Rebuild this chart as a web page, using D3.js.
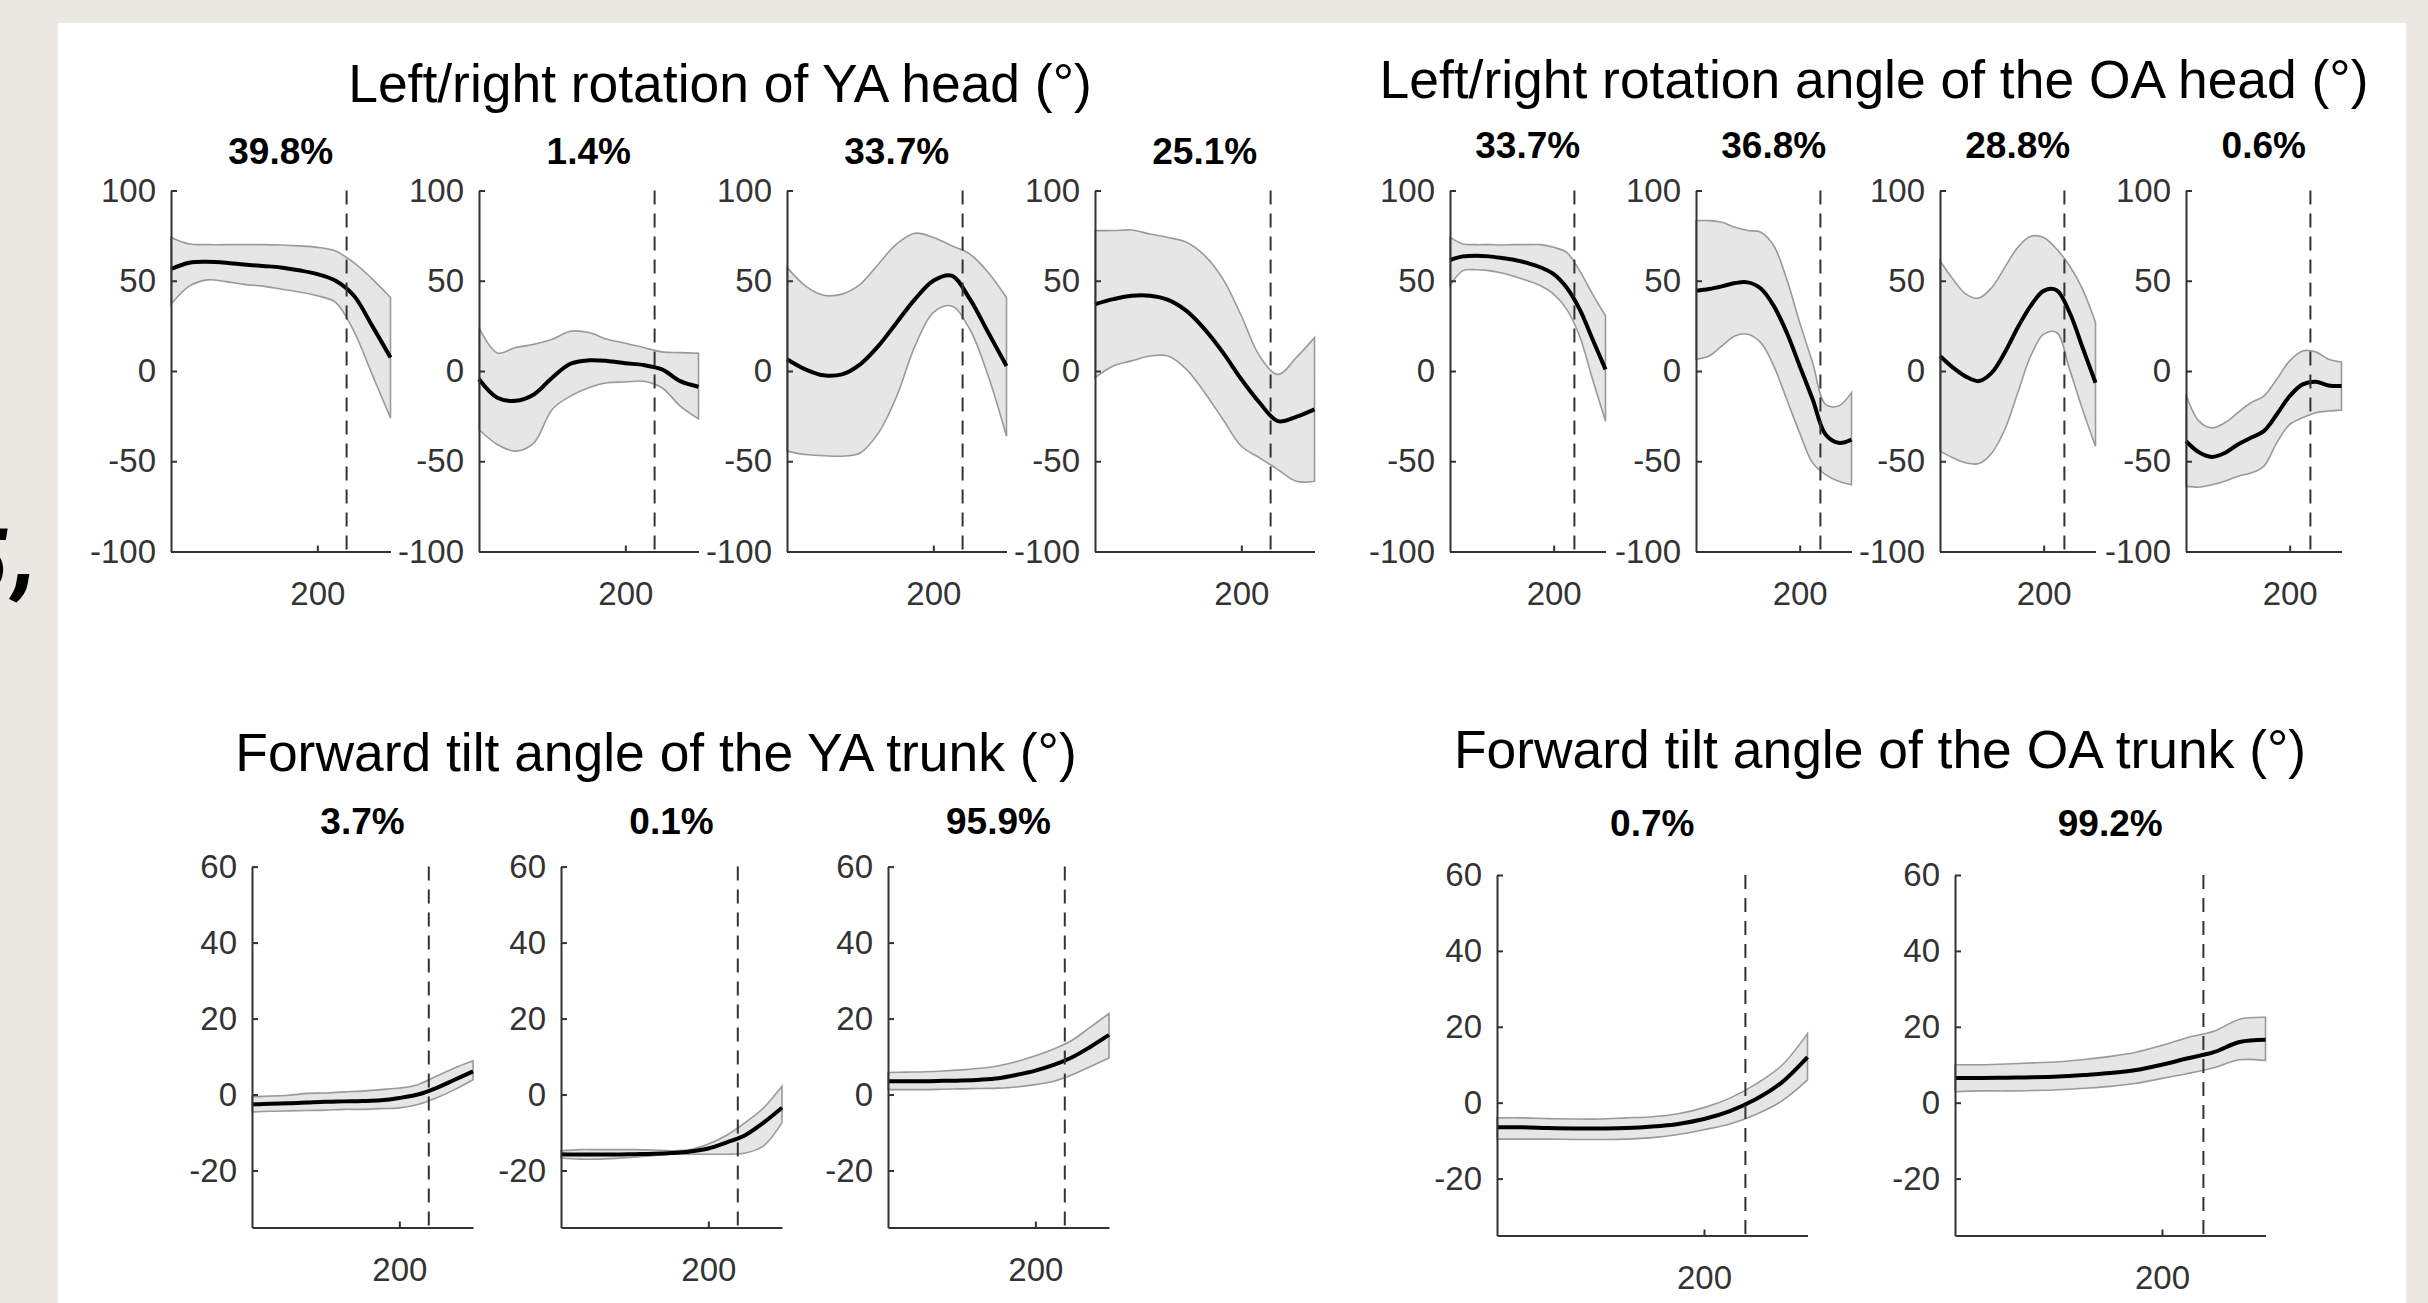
<!DOCTYPE html>
<html><head><meta charset="utf-8">
<script src="https://cdn.jsdelivr.net/npm/d3@7"></script>
<style>html,body{margin:0;padding:0;background:#ebe7e2;} svg{display:block}</style>
</head><body>
<svg id="c" width="2428" height="1303"></svg>
<script>
// ---------------- DATA ----------------
const xSamples = [0, 25, 50, 75, 100, 125, 150, 175, 200, 225, 250, 275, 300];
const eventX = 240;
const xTickValues = [200];
const headYTicks = [-100, -50, 0, 50, 100];
const trunkYTicks = [-20, 0, 20, 40, 60];
const headYDomain = [-100, 100];
const trunkYDomain = [-35, 60];
const groupTitles = [
  "Left/right rotation of YA head (°)",
  "Left/right rotation angle of the OA head (°)",
  "Forward tilt angle of the YA trunk (°)",
  "Forward tilt angle of the OA trunk (°)"
];
const yaHeadLabels = ["39.8%", "1.4%", "33.7%", "25.1%"];
const oaHeadLabels = ["33.7%", "36.8%", "28.8%", "0.6%"];
const yaTrunkLabels = ["3.7%", "0.1%", "95.9%"];
const oaTrunkLabels = ["0.7%", "99.2%"];
const edgeFragment = ["5", ","];

const yaHeadMean = [
  [56.5, 60, 60.5, 60, 59, 58.2, 57.4, 55.8, 53.7, 50, 41.7, 25, 7.5],
  [-4.6, -14.8, -16.5, -13, -3.7, 4, 5.9, 5.6, 4.3, 3.3, 0.9, -5.6, -8.7],
  [6.5, 0.9, -2.4, -1.9, 3.7, 13.9, 26.9, 39.8, 50, 52.8, 39.8, 21.3, 2.8],
  [37, 39.8, 41.7, 41.7, 39.4, 33.3, 23.1, 10.2, -4.6, -17.6, -27.8, -25.4, -21.3]
];
const yaHeadUpper = [
  [74, 70.4, 70, 70, 70, 70, 69.8, 69.3, 68.5, 66.5, 60, 51, 40.7],
  [24, 10, 13, 14.8, 17.6, 22, 21.3, 17.6, 15.4, 13, 10.6, 10.2, 9.8],
  [57.4, 47.2, 42, 42.6, 48, 59.3, 70.4, 76.3, 74, 69.4, 64.8, 54.6, 40.7],
  [77.8, 77.8, 78.1, 75.9, 74, 71.3, 63.9, 50.9, 30.6, 8.3, -1.9, 7.4, 18.5]
];
const yaHeadLower = [
  [37, 47, 50.5, 49.5, 48, 47, 45.4, 43.8, 41.7, 38, 22, -2, -26],
  [-32.4, -40.7, -44.4, -39.8, -21.3, -13.9, -9.3, -6.5, -6.1, -5.7, -9.3, -19.4, -26.5],
  [-44.4, -46.3, -46.9, -47.2, -45.4, -34.3, -13.9, 13.9, 32.4, 36, 23, -2.8, -36.1],
  [-3.7, 2.8, 5.6, 8.3, 8.3, 0.9, -12, -26.9, -41.7, -48.1, -54.6, -61.1, -61.1]
];
const oaHeadMean = [
  [61.5, 63.5, 63.9, 63.5, 62.6, 61.5, 59.8, 57.4, 53.7, 46.3, 34.3, 17.6, 0.9],
  [44.4, 45.4, 46.9, 48.7, 49.1, 45.7, 36.1, 21.3, 2.8, -15.7, -35.2, -39.8, -38],
  [8.3, 1.9, -3.1, -5.6, -0.9, 10.2, 24.1, 36.1, 44.4, 44.8, 32.4, 13, -6.5],
  [-38.9, -45, -47.6, -45.4, -40.7, -37, -33.3, -24.1, -13.9, -7.4, -5.9, -8, -8.3]
];
const oaHeadUpper = [
  [74, 70.4, 70, 70, 69.8, 70, 70, 70, 68.5, 65.7, 55.6, 42.6, 30.6],
  [83.3, 83.3, 82.4, 79.6, 77.8, 76.9, 69.4, 50.9, 26.9, 4.6, -18.5, -19.4, -12],
  [61.1, 50.9, 42.6, 40.4, 46.3, 57.4, 68.5, 74.6, 74, 67.6, 58.3, 45.4, 26.9],
  [-13, -27.8, -31.5, -28.7, -23.1, -17.6, -13.9, -4.6, 5.6, 11.1, 10.6, 6.5, 5]
];
const oaHeadLower = [
  [47.2, 55.6, 56.1, 55.6, 54.3, 52.4, 50, 47.2, 42.6, 34.3, 19.4, -4.6, -27.8],
  [6.5, 8.3, 13.9, 19.4, 20.4, 15.7, 2.8, -15.7, -34.3, -50.9, -57.4, -61.1, -63],
  [-44.4, -48.1, -50.9, -51.3, -45.4, -32.4, -12, 8.3, 20.4, 21.3, 0.9, -21.3, -41.7],
  [-63.9, -64.3, -63, -61.1, -58.3, -56.5, -52.8, -39.8, -29.6, -25.9, -23.1, -22.2, -21.7]
];
const yaTrunkMean = [
  [-2.6, -2.4, -2.3, -2.1, -1.9, -1.8, -1.7, -1.5, -0.9, 0, 1.7, 3.9, 6.1],
  [-15.7, -15.8, -15.8, -15.8, -15.7, -15.6, -15.4, -15, -14.2, -12.6, -10.7, -7.4, -3.5],
  [3.5, 3.5, 3.5, 3.6, 3.7, 3.9, 4.3, 5.2, 6.3, 7.8, 9.8, 12.6, 15.7]
];
const yaTrunkUpper = [
  [-0.6, -0.4, -0.2, 0.3, 0.4, 0.7, 0.9, 1.3, 1.7, 2.6, 4.8, 7, 8.9],
  [-14.8, -14.5, -14.5, -14.5, -14.5, -14.6, -14.8, -14.5, -13, -10.7, -7.4, -3.5, 2.2],
  [5.8, 5.9, 6, 6.2, 6.5, 6.9, 7.6, 8.7, 10.2, 12, 14.3, 17.8, 21.3]
];
const yaTrunkLower = [
  [-4.6, -4.4, -4.3, -4.2, -4.1, -3.9, -3.9, -3.7, -3.5, -2.6, -0.9, 1.3, 3.9],
  [-16.7, -17, -17, -16.8, -16.5, -16.1, -15.7, -15.7, -15.7, -15.7, -15.4, -13.5, -7.4],
  [1.3, 1.3, 1.3, 1.4, 1.5, 1.6, 1.7, 2, 2.6, 3.5, 5.2, 7.4, 9.6]
];
const oaTrunkMean = [
  [-6.5, -6.5, -6.7, -6.8, -6.8, -6.7, -6.3, -5.6, -4.3, -2.2, 0.9, 5.3, 12],
  [6.5, 6.5, 6.6, 6.7, 6.9, 7.3, 7.8, 8.6, 10, 11.7, 13.3, 16, 16.6]
];
const oaTrunkUpper = [
  [-4, -4, -4.2, -4.3, -4.3, -4, -3.7, -2.9, -1.3, 1.2, 4.9, 9.8, 18.2],
  [10, 10, 10.2, 10.5, 10.8, 11.4, 12.2, 13.3, 15.1, 17.2, 18.8, 22, 22.5]
];
const oaTrunkLower = [
  [-9.6, -9.6, -9.6, -9.7, -9.7, -9.6, -9.2, -8.4, -7.1, -5.6, -3.1, 0.4, 6],
  [2.9, 3.1, 3.1, 3.2, 3.4, 3.8, 4.3, 5.1, 6.4, 7.7, 9.2, 11.3, 11.1]
];

// ---------------- LAYOUT ----------------
const FONT = "'Liberation Sans', Arial, Helvetica, sans-serif";
const svg = d3.select("#c");
svg.append("rect").attr("width", 2428).attr("height", 1303).attr("fill", "#ebe7e2");

// partially visible text fragment at the left page edge
const FRAG_FONT = "Roboto, 'Open Sans', 'DejaVu Sans', sans-serif";
const five = svg.append("text").attr("x", 0).attr("y", 593)
  .attr("font-family", FRAG_FONT).attr("font-weight", 900).attr("font-style", "italic")
  .attr("font-size", 90).attr("fill", "#000").text(edgeFragment[0]);
let bb = five.node().getBBox();
five.attr("x", 8 - (bb.x + bb.width));
const comma = svg.append("text").attr("x", 0).attr("y", 585)
  .attr("font-family", FRAG_FONT).attr("font-weight", 900).attr("font-style", "italic")
  .attr("font-size", 90).attr("fill", "#000").text(edgeFragment[1]);
bb = comma.node().getBBox();
comma.attr("x", 9 - bb.x);

svg.append("rect").attr("x", 58).attr("y", 23).attr("width", 2348).attr("height", 1280).attr("fill", "#fff");

const groups = [
  { title: groupTitles[0], tx: 720, ty: 102, lblY: 164, top: 190.5, bottom: 551.5, lefts: [171, 479, 787, 1095], width: 219.5,
    yDomain: headYDomain, yTicks: headYTicks, labels: yaHeadLabels, mean: yaHeadMean, upper: yaHeadUpper, lower: yaHeadLower },
  { title: groupTitles[1], tx: 1874, ty: 98, lblY: 158, top: 190.5, bottom: 551.5, lefts: [1450, 1696, 1940, 2186], width: 155.5,
    yDomain: headYDomain, yTicks: headYTicks, labels: oaHeadLabels, mean: oaHeadMean, upper: oaHeadUpper, lower: oaHeadLower },
  { title: groupTitles[2], tx: 656, ty: 771, lblY: 834, top: 866.6, bottom: 1227.5, lefts: [252, 561, 888], width: 221,
    yDomain: trunkYDomain, yTicks: trunkYTicks, labels: yaTrunkLabels, mean: yaTrunkMean, upper: yaTrunkUpper, lower: yaTrunkLower },
  { title: groupTitles[3], tx: 1880, ty: 768, lblY: 836, top: 875, bottom: 1235.5, lefts: [1497, 1955], width: 310.5,
    yDomain: trunkYDomain, yTicks: trunkYTicks, labels: oaTrunkLabels, mean: oaTrunkMean, upper: oaTrunkUpper, lower: oaTrunkLower }
];

const AX = "#333";
groups.forEach(G => {
  svg.append("text").attr("x", G.tx).attr("y", G.ty).attr("text-anchor", "middle")
    .attr("font-family", FONT).attr("font-size", 53.4).attr("fill", "#000").text(G.title);
  G.lefts.forEach((left, i) => {
    const x = d3.scaleLinear().domain([0, 300]).range([left, left + G.width]);
    const y = d3.scaleLinear().domain(G.yDomain).range([G.bottom, G.top]);
    const g = svg.append("g");
    const pts = xSamples.map((xv, k) => ({ x: xv, m: G.mean[i][k], u: G.upper[i][k], l: G.lower[i][k] }));
    const curve = d3.curveCatmullRom.alpha(0.5);
    g.append("path").datum(pts)
      .attr("d", d3.area().curve(curve).x(d => x(d.x)).y0(d => y(d.l)).y1(d => y(d.u)))
      .attr("fill", "#e6e6e6").attr("stroke", "#9a9a9a").attr("stroke-width", 1.6);
    g.append("path").datum(pts)
      .attr("d", d3.line().curve(curve).x(d => x(d.x)).y(d => y(d.m)))
      .attr("fill", "none").attr("stroke", "#000").attr("stroke-width", 4);
    // event line
    g.append("line").attr("x1", x(eventX)).attr("x2", x(eventX)).attr("y1", G.top).attr("y2", G.bottom)
      .attr("stroke", AX).attr("stroke-width", 2).attr("stroke-dasharray", "14,9");
    // axes
    const ya = g.append("g").attr("transform", `translate(${left},0)`)
      .call(d3.axisLeft(y).tickValues(G.yTicks).tickSize(-6).tickSizeOuter(0).tickPadding(15).tickFormat(d3.format("d")));
    const xa = g.append("g").attr("transform", `translate(0,${G.bottom})`)
      .call(d3.axisBottom(x).tickValues(xTickValues).tickSize(-6).tickSizeOuter(0).tickPadding(30).tickFormat(d3.format("d")));
    [ya, xa].forEach(a => {
      a.select(".domain").attr("stroke", AX).attr("stroke-width", 2);
      a.selectAll(".tick line").attr("stroke", AX).attr("stroke-width", 2);
      a.selectAll(".tick text").attr("fill", "#333").attr("font-family", FONT).attr("font-size", 33);
    });
    ya.selectAll(".tick text").text(d => d < 0 ? "-" + Math.abs(d) : String(d));
    // percent label
    svg.append("text").attr("x", left + G.width / 2).attr("y", G.lblY).attr("text-anchor", "middle")
      .attr("font-family", FONT).attr("font-weight", "bold").attr("font-size", 37).attr("fill", "#000")
      .text(G.labels[i]);
  });
});
</script>
</body></html>
